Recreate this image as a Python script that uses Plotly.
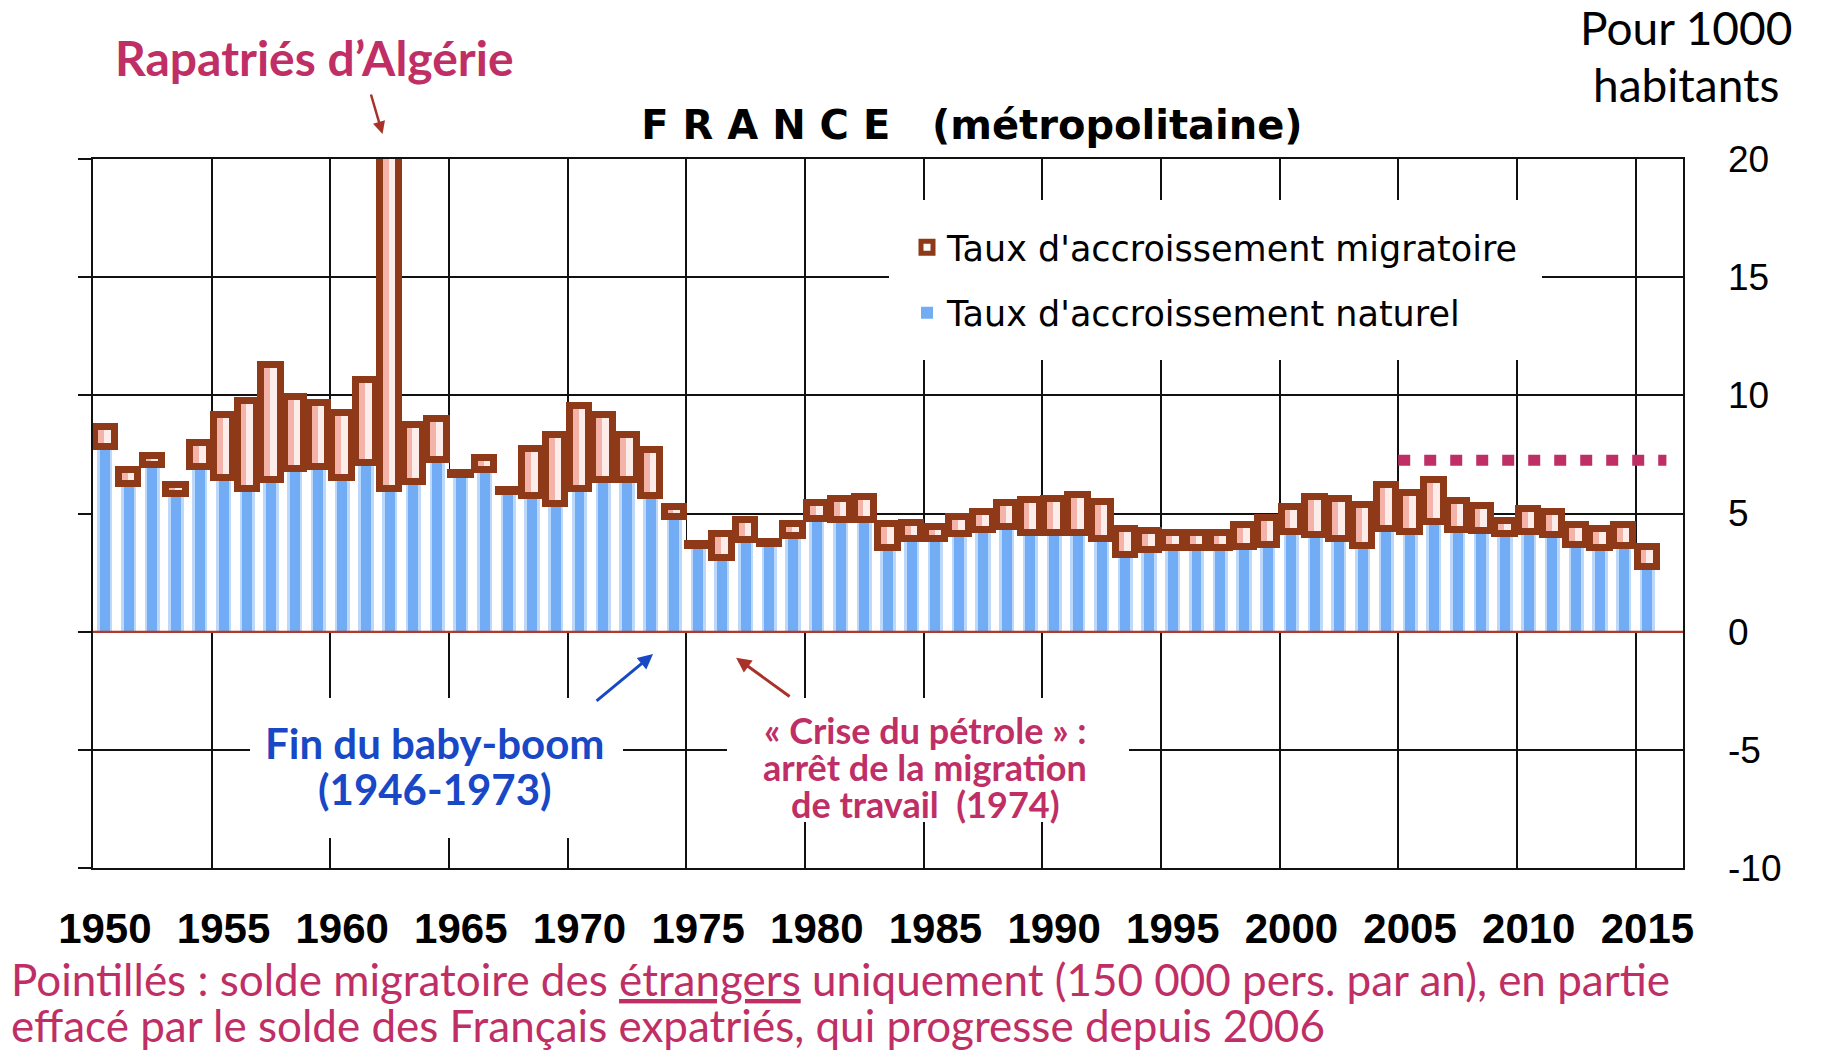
import plotly.graph_objects as go

# ---- Data (taux pour 1000 habitants, France métropolitaine) ----
years = list(range(1950, 2016))

natural = [
    7.81, 6.26, 7.07, 5.84, 6.97, 6.52, 6.05, 6.40, 6.90, 6.97,   # 1950-1959
    6.52, 7.14, 6.05, 6.33, 7.25, 6.61, 6.83, 5.91, 5.73, 5.42,   # 1960-1969
    6.05, 6.41, 6.41, 5.73, 4.85, 3.62, 3.10, 3.87, 3.70, 4.04,   # 1970-1979
    4.78, 4.74, 4.74, 3.52, 3.94, 3.94, 4.15, 4.32, 4.43, 4.18,   # 1980-1989
    4.18, 4.18, 3.94, 3.24, 3.47, 3.52, 3.52, 3.52, 3.59, 3.66,   # 1990-1999
    4.22, 4.08, 3.94, 3.62, 4.36, 4.22, 4.65, 4.29, 4.26, 4.15,   # 2000-2009
    4.22, 4.08, 3.66, 3.52, 3.63, 2.74,                           # 2010-2015
]

migration = [
    0.85, 0.60, 0.38, 0.38, 1.01, 2.63, 3.71, 4.90, 3.03, 2.70,   # 1950-1959
    2.73, 3.53, 18.5, 2.40, 1.75, 0.10, 0.53, 0.10, 2.01, 2.91,   # 1960-1969
    3.52, 2.74, 1.90, 1.97, 0.42, 0.10, 1.02, 0.84, 0.10, 0.50,   # 1970-1979
    0.67, 0.89, 0.96, 1.05, 0.66, 0.49, 0.71, 0.75, 1.02, 1.41,   # 1980-1989
    1.45, 1.59, 1.55, 1.12, 0.79, 0.66, 0.66, 0.66, 0.91, 1.13,   # 1990-1999
    1.06, 1.62, 1.69, 1.73, 1.86, 1.65, 1.78, 1.23, 1.05, 0.53,   # 2000-2009
    0.95, 0.99, 0.84, 0.84, 0.87, 0.85,                           # 2010-2015
]

# Solde migratoire des étrangers seuls (pointillés)
foreigners_years = [2004.5, 2015.8]
foreigners_rate = [7.25, 7.25]

tick_years = list(range(1950, 2016, 5))
tick_labels = [str(y) for y in tick_years]
grid_years = [y - 0.5 for y in tick_years]
y_ticks = [-10, -5, 0, 5, 10, 15, 20]
y_labels = [str(v) for v in y_ticks]

# ---- Styles ----
BROWN = "#8E3A18"
PINK = "#F3B3A9"
PINK_LIGHT = "#FCEDEA"
BLUE = "#72ACF4"
BLUE_LIGHT = "#BCD8FA"
CRIMSON = "#BF2F66"
NAVY = "#1848C6"
ARROW_RED = "#A8322A"
ZERO_RED = "#B23A28"

W, H = 1825, 1054
L, R, T, B = 93, 1683, 159, 868


def px(x):
    return (x - L) / (R - L)


def py(y):
    return (B - y) / (B - T)


fig = go.Figure()

# Natural increase: layered bars give a soft white-blue-white column
fig.add_trace(go.Bar(x=years, y=natural, width=1.0, marker=dict(color="white", line=dict(width=0)),
                     showlegend=False, hoverinfo="skip"))
fig.add_trace(go.Bar(x=years, y=natural, width=0.64, marker=dict(color=BLUE_LIGHT, line=dict(width=0)),
                     showlegend=False, hoverinfo="skip"))
fig.add_trace(go.Bar(x=years, y=natural, width=0.42, marker=dict(color=BLUE, line=dict(width=0)),
                     name="Taux d'accroissement naturel", legendrank=2, legendgroup="nat"))

# Migratory increase stacked on top of the natural increase
fig.add_trace(go.Bar(x=years, y=migration, base=natural, width=0.82,
                     marker=dict(color=PINK, line=dict(width=0)),
                     showlegend=False, hoverinfo="skip"))
fig.add_trace(go.Bar(x=years, y=migration, base=natural, width=0.32, offset=-0.04,
                     marker=dict(color=PINK_LIGHT, line=dict(width=0)),
                     showlegend=False, hoverinfo="skip"))
fig.add_trace(go.Bar(x=years, y=migration, base=natural, width=0.82,
                     marker=dict(color="rgba(0,0,0,0)", line=dict(color=BROWN, width=7)),
                     name="Taux d'accroissement migratoire", legendrank=1, legendgroup="mig"))

# Dotted level: foreigners' net migration only
fig.add_trace(go.Scatter(x=foreigners_years, y=foreigners_rate, yaxis="y2", mode="lines",
                         line=dict(color=CRIMSON, width=11, dash="12px,14px"),
                         showlegend=False, hoverinfo="skip"))

axis_font = dict(family="Liberation Sans, Arial, sans-serif", size=37, color="black")

LEG_PAD = 18
fig.update_layout(
    width=W, height=H,
    margin=dict(l=L, r=W - R, t=T, b=H - B, autoexpand=False),
    paper_bgcolor="white", plot_bgcolor="white",
    barmode="overlay",
    bargap=0,
    xaxis=dict(
        range=[1949.5, 2016.5], tickmode="array", tickvals=tick_years, ticktext=tick_labels,
        showgrid=False, ticks="", ticklabelstandoff=23, tickangle=0,
        tickfont=dict(family="Liberation Sans, Arial, sans-serif",
                      size=42, color="black", weight="bold"),
        minor=dict(tickmode="array", tickvals=grid_years, showgrid=True, gridcolor="#111111",
                   gridwidth=1.6, ticks=""),
        showline=True, mirror=True, linecolor="#111111", linewidth=1.6,
        zeroline=False, fixedrange=True,
    ),
    yaxis=dict(
        range=[-10, 20], tickmode="array", tickvals=y_ticks,
        showgrid=True, gridcolor="#111111", gridwidth=1.6,
        ticks="outside", ticklen=13, tickwidth=1.6, tickcolor="#111111",
        showticklabels=False,
        zeroline=True, zerolinecolor=ZERO_RED, zerolinewidth=2,
        showline=True, mirror=True, linecolor="#111111", linewidth=1.6,
    ),
    yaxis2=dict(
        range=[-10, 20], overlaying="y", side="right", tickmode="array",
        tickvals=y_ticks, ticktext=y_labels, showgrid=False, zeroline=False,
        ticks="", ticklabelstandoff=44, tickfont=axis_font, showline=False,
    ),
    legend=dict(
        x=px(907 - LEG_PAD), y=py(218 - LEG_PAD), xanchor="left", yanchor="top",
        bgcolor="white", bordercolor="white", borderwidth=LEG_PAD, tracegroupgap=17,
        font=dict(family="DejaVu Sans, Verdana, sans-serif", size=35, color="black"),
    ),
    title=dict(
        text="F R A N C E\u00a0\u00a0 (métropolitaine)",
        x=972 / W, xanchor="center", y=1 - 125 / H, yanchor="middle",
        font=dict(family="DejaVu Sans, sans-serif", size=40, color="black", weight="bold"),
    ),
)

# Zero line kept visible along the foot of the columns
fig.add_shape(type="line", xref="paper", yref="y", x0=0, x1=1, y0=0, y1=0,
              layer="above", line=dict(color=ZERO_RED, width=2))

# White panels behind the captions inside the plot
fig.add_shape(type="rect", xref="paper", yref="paper", layer="above",
              x0=px(250), x1=px(623), y0=py(838), y1=py(698),
              fillcolor="white", line=dict(width=0))
fig.add_shape(type="rect", xref="paper", yref="paper", layer="above",
              x0=px(727), x1=px(1129), y0=py(822), y1=py(698),
              fillcolor="white", line=dict(width=0))

LATO = "Lato, Open Sans, sans-serif"


def label(text, x, y, size, color, bold=False, xanchor="center", align="center"):
    return dict(text=text, x=px(x), y=py(y), xref="paper", yref="paper",
                xanchor=xanchor, yanchor="middle", align=align, showarrow=False,
                font=dict(family=LATO, size=size, color=color,
                          weight="bold" if bold else "normal"))


annotations = [
    label("Rapatriés d’Algérie", 314, 57, 48, CRIMSON, bold=True),
    dict(text="", x=1961.7, y=py(134), xref="x", yref="paper", ax=-12, ay=-41,
         showarrow=True, arrowhead=2, arrowsize=1, arrowwidth=2.5, arrowcolor=ARROW_RED),
    label("Pour 1000", 1686, 27, 46, "black"),
    label("habitants", 1686, 85, 46, "black"),
    label("Fin du baby-boom", 435, 743, 42, NAVY, bold=True),
    label("(1946-1973)", 435, 789, 42, NAVY, bold=True),
    dict(text="", x=1973.1, y=-0.95, xref="x", yref="y", ax=-58, ay=48,
         showarrow=True, arrowhead=2, arrowsize=1, arrowwidth=3, arrowcolor=NAVY),
    label("« Crise du pétrole » :", 925, 730, 36, CRIMSON, bold=True),
    label("arrêt de la migration", 925, 767, 36, CRIMSON, bold=True),
    label("de travail\u00a0 (1974)", 925, 804, 36, CRIMSON, bold=True),
    dict(text="", x=1976.6, y=-1.1, xref="x", yref="y", ax=55, ay=40,
         showarrow=True, arrowhead=2, arrowsize=1, arrowwidth=3, arrowcolor=ARROW_RED),
    label("Pointillés : solde migratoire des <u>étrangers</u> uniquement (150 000 pers. par an), en partie",
          9, 979, 44, CRIMSON, xanchor="left", align="left"),
    label("effacé par le solde des Français expatriés, qui progresse depuis 2006",
          9, 1025, 44, CRIMSON, xanchor="left", align="left"),
]
fig.update_layout(annotations=annotations)

fig.write_html("out.html")
